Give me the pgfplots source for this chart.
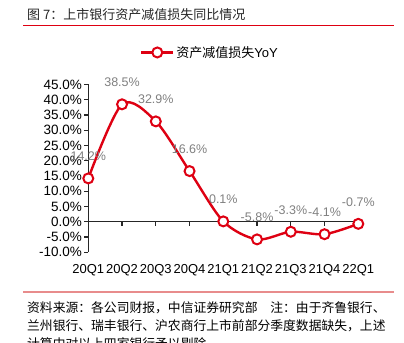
\documentclass[border=0pt]{standalone}
\usepackage{pgfplots}
\pgfplotsset{compat=1.18}
\usepackage{fontspec}
\setmainfont{Liberation Sans}
\newfontfamily\cjk{Noto Sans CJK SC}
\definecolor{cred}{RGB}{222,0,18}
\definecolor{cpink}{RGB}{232,140,140}
\definecolor{lgray}{RGB}{128,128,128}
\begin{document}
\begin{tikzpicture}[x=1bp,y=1bp]
\useasboundingbox (0,0) rectangle (404,343);
\node[anchor=west,inner sep=0,font=\cjk\fontsize{13bp}{15bp}\selectfont,text=black!85] at (27,328) {图 7：上市银行资产减值损失同比情况};
\draw[cred,line width=1bp] (23,317) -- (394,317);
\draw[cpink,line width=2bp] (23,51) -- (394,51);
\node[anchor=west,inner sep=0,font=\cjk\fontsize{12.8bp}{15bp}\selectfont] at (27,35) {资料来源：各公司财报，中信证券研究部　注：由于齐鲁银行、};
\node[anchor=west,inner sep=0,font=\cjk\fontsize{12.8bp}{15bp}\selectfont] at (27,17) {兰州银行、瑞丰银行、沪农商行上市前部分季度数据缺失，上述};
\node[anchor=west,inner sep=0,font=\cjk\fontsize{12.8bp}{15bp}\selectfont] at (27,-1) {计算中对以上四家银行予以剔除。};
\begin{axis}[
  at={(88.3bp,121.3bp)}, anchor=origin,
  scale only axis, width=270bp, height=167.7bp,
  xmin=0, xmax=8, ymin=-10, ymax=45,
  axis x line=middle, axis y line=left,
  axis line style={black!85, line width=1.5bp, -},
  hide obscured x ticks=false,
  tick align=outside,
  major tick length=4bp,
  tick style={black!85, line width=1.2bp},
  xtick={0,...,8},
  xticklabels={20Q1,20Q2,20Q3,20Q4,21Q1,21Q2,21Q3,21Q4,22Q1},
  xticklabel style={anchor=center, yshift=-44bp, font=\fontsize{13bp}{15bp}\selectfont},
  ytick={-10,-5,...,45},
  yticklabels={-10.0\%,-5.0\%,0.0\%,5.0\%,10.0\%,15.0\%,20.0\%,25.0\%,30.0\%,35.0\%,40.0\%,45.0\%},
  yticklabel style={font=\fontsize{13.5bp}{15bp}\selectfont, xshift=1bp},
  clip=false,
  legend style={at={(0.4507,1.191)}, anchor=center, draw=none, fill=none, font=\fontsize{13bp}{15bp}\selectfont, inner sep=0pt},
  legend image code/.code={\draw[mark repeat=2,mark phase=2,#1] plot coordinates {(0bp,0bp) (16bp,0bp) (32bp,0bp)};},
  nodes near coords, point meta=explicit symbolic,
  every node near coord/.append style={anchor=center, yshift=22bp, text=lgray, font=\fontsize{12.5bp}{14bp}\selectfont},
]
\addplot[cred, line width=2.4bp, smooth, tension=0.5, mark=*, mark size=5bp, mark options={fill=white, draw=cred, line width=2bp}]
coordinates {(0,14.2)[14.2\%] (1,38.5)[38.5\%] (2,32.9)[32.9\%] (3,16.6)[16.6\%] (4,0.1)[0.1\%] (5,-5.8)[-5.8\%] (6,-3.3)[-3.3\%] (7,-4.1)[-4.1\%] (8,-0.7)[-0.7\%]};
\addlegendentry{{\cjk 资产减值损失}YoY}
\end{axis}
\end{tikzpicture}
\end{document}
